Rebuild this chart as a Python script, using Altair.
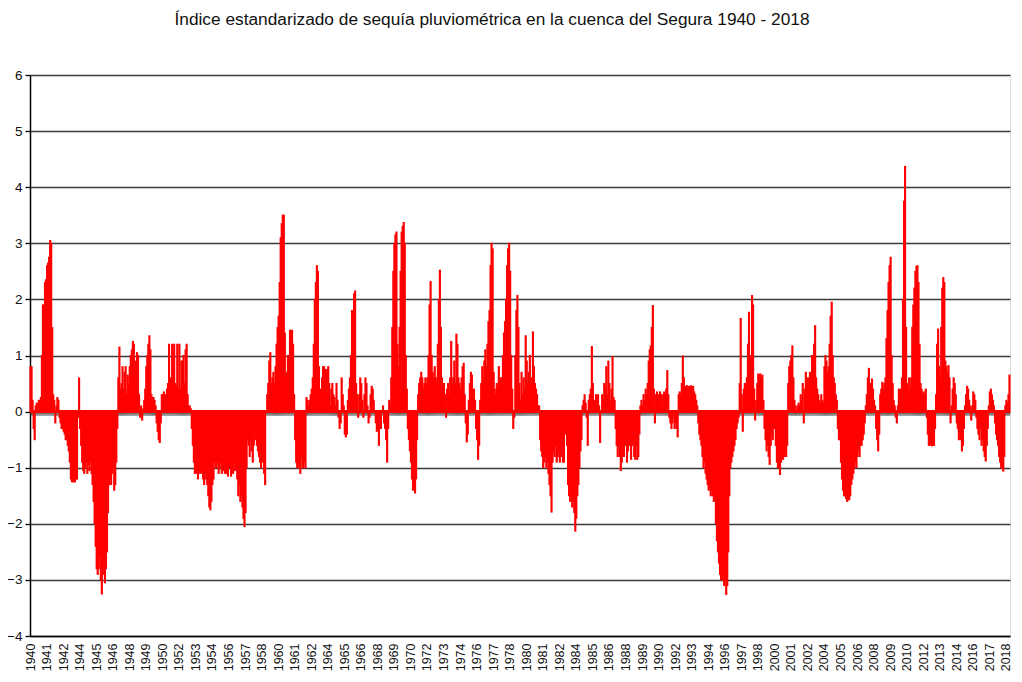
import altair as alt
import pandas as pd

TITLE = "Índice estandarizado de sequía pluviométrica en la cuenca del Segura 1940 - 2018"

X_TICK_LABELS = [
    "1940", "1941", "1942", "1944", "1945", "1946", "1948", "1949", "1950", "1952",
    "1953", "1954", "1956", "1957", "1958", "1960", "1961", "1962", "1964", "1965",
    "1966", "1968", "1969", "1970", "1972", "1973", "1974", "1976", "1977", "1978",
    "1980", "1981", "1982", "1984", "1985", "1986", "1988", "1989", "1990", "1992",
    "1993", "1994", "1996", "1997", "1998", "2000", "2001", "2002", "2004", "2005",
    "2006", "2008", "2009", "2010", "2012", "2013", "2014", "2016", "2017", "2018",
]
LABEL_STEP = 16  # one label every 16 monthly categories

# Monthly index values (Jan..Dec per row)
SPI_1940S = [
    0.8, 0.8, 0.2, -0.3, -0.5, 0.1, 0.15, 0.1, 0.2, 0.2, 0.25, 1.0,
    1.9, 1.9, 2.3, 2.35, 2.6, 2.65, 2.75, 3.05, 3.0, 1.5, 0.3, 0.2,
    -0.2, 0.1, 0.25, 0.2, -0.1, -0.2, -0.3, -0.3, -0.35, -0.4, -0.5, -0.5,
    -0.6, -0.7, -0.9, -1.2, -1.25, -1.25, -1.25, -1.25, -1.2, -1.2, -0.1, 0.6,
    -0.3, -0.6, -0.9, -1.05, -1.1, -1.0, -0.9, -1.1, -0.95, -1.05, -0.9, -1.1,
    -1.3, -1.6, -2.0, -2.4, -2.8, -2.9, -2.8, -2.6, -3.0, -3.25, -2.9, -2.7,
    -3.05, -2.8, -2.5, -1.8, -1.3, -1.2, -1.3, -1.1, -1.0, -1.4, -1.3, -0.9,
    -0.3, 0.6, 1.15, 0.4, 0.5, 0.8, 0.4, 0.7, 0.8, 0.3, 0.65, 0.5,
    0.8, 1.0, 1.1, 1.25, 1.2, 0.7, 0.9, 1.05, 1.0, 0.3, -0.1, 0.1,
    -0.15, 0.05, 0.2, 0.4, 0.8, 1.0, 1.2, 1.35, 1.1, 0.3, 0.25, 0.25,
]
SPI_1950S = [
    0.2, 0.1, -0.2, -0.35, -0.5, -0.55, -0.2, 0.3, 0.3, 0.35, 0.3, 0.25,
    0.4, 0.5, 1.2, 0.6, 0.5, 1.2, 0.8, 1.2, 0.5, 0.45, 1.2, 0.4,
    1.2, 0.4, 0.9, 0.9, 1.0, 0.5, 1.1, 1.2, 0.3, 0.1, 0.1, 0.05,
    -0.3, -0.6, -0.9, -1.1, -1.1, -1.0, -1.2, -1.1, -0.8, -1.1, -1.0, -1.2,
    -1.3, -1.1, -1.2, -1.3, -1.5, -1.7, -1.75, -1.6, -1.3, -1.2, -0.9, -1.0,
    -1.0, -0.9, -1.1, -1.0, -0.9, -1.1, -1.0, -1.05, -1.1, -1.1, -1.0, -1.15,
    -1.0, -0.9, -1.15, -1.0, -1.1, -0.9, -1.05, -1.0, -1.2, -1.5, -1.3, -1.6,
    -1.5, -1.7, -1.9, -2.05, -1.8, -1.0, -0.5, -0.6, -0.8, -0.5, -0.7, -0.9,
    -0.6, -0.4, -0.5, -0.6, -0.7, -0.8, -0.9, -1.0, -0.8, -0.9, -1.1, -1.3,
    0.0, 0.3, 0.5, 0.9, 1.05, 0.5, 0.6, 0.7, 0.5, 0.8, 1.2, 1.5,
]
SPI_1960S = [
    1.7, 2.3, 3.1, 3.35, 3.5, 3.5, 1.4, 0.6, 0.7, 1.0, 0.7, 1.45,
    1.0, 1.45, 1.2, 0.3, -0.5, -0.9, -1.0, -0.95, -1.0, -1.1, -0.8, -1.0,
    -1.0, -0.9, -1.0, 0.25, 0.2, 0.1, 0.2, 0.3, 0.4, 0.6, 1.2, 2.0,
    2.3, 2.6, 2.5, 0.8, 0.4, 0.2, 0.6, 0.8, 0.8, 0.75, 0.7, 0.75,
    0.8, 0.5, 0.1, 0.4, 0.5, 0.3, 0.25, 0.1, 0.5, 0.2, -0.1, -0.3,
    -0.2, 0.6, 0.3, 0.1, -0.4, -0.45, -0.4, 0.2, 0.4, 0.6, 1.0, 1.8,
    1.2, 2.1, 2.15, 0.5, 0.3, -0.1, 0.3, 0.6, 0.5, 0.2, -0.1, 0.3,
    0.6, 0.5, 0.1, -0.2, -0.1, 0.3, 0.45, 0.4, 0.2, 0.0, -0.2, -0.35,
    -0.3, -0.6, -0.1, -0.3, 0.0, 0.1, -0.2, -0.3, -0.5, -0.9, -0.3, 0.2,
    0.1, 0.6, 1.5, 2.5, 3.0, 3.15, 3.2, 1.2, 0.8, 1.5, 2.5, 3.2,
]
SPI_1970S = [
    3.3, 3.37, 3.0, 1.0, 0.4, -0.3, -0.5, -0.7, -0.9, -1.2, -1.4, -1.3,
    -1.45, -1.2, -0.5, 0.3, 0.5, 0.6, 0.7, 0.6, 0.4, 0.5, 0.6, 0.5,
    0.6, 1.0, 1.9, 2.32, 1.0, 0.7, 0.6, 0.8, 0.6, 0.5, 1.2, 2.0,
    2.52, 1.5, 0.6, 0.4, 0.5, 0.3, -0.1, 0.4, 0.5, 0.3, 0.6, 1.25,
    0.5, 0.6, 0.9, 0.5, 1.38, 1.2, 0.6, 0.5, 0.4, 0.6, 0.8, 0.86,
    0.3, -0.2, -0.54, -0.4, 0.2, 0.5, 0.7, 0.65, 0.3, 0.4, 0.2, -0.3,
    -0.5, -0.85, -0.6, 0.2, 0.5, 0.8, 0.6, 0.9, 1.1, 0.8, 1.2, 1.6,
    1.8, 2.6, 3.0, 2.9, 0.7, 0.4, 0.3, 0.5, 0.4, 0.8, 0.5, 0.6,
    0.6, 1.0, 1.4, 1.6, 2.0, 2.6, 2.9, 3.0, 2.5, 1.0, 0.4, -0.3,
    -0.1, 1.0, 1.8, 2.07, 1.5, 0.5, 0.2, 0.7, 0.3, 0.6, 0.4, 1.35,
]
SPI_1980S = [
    0.9, 0.5, 0.7, 1.0, 0.6, 0.5, 1.42, 0.8, 0.5, 0.4, 0.3, 0.1,
    0.1, -0.5, -0.7, -0.8, -1.0, -0.9, -0.8, -1.0, -0.9, -1.1, -1.3, -1.5,
    -1.79, -0.9, -0.7, -0.8, -0.6, -0.9, -0.8, -0.7, -0.9, -0.8, -0.7, -0.9,
    -0.9, -0.4, -0.2, -0.6, -1.3, -1.5, -1.6, -1.5, -1.7, -1.6, -1.8, -2.13,
    -1.9, -1.5, -1.3, -1.0, -0.7, -0.5, 0.1, 0.2, 0.3, 0.15, -0.1, -0.6,
    0.2, 0.3, 0.4, 1.16, 0.5, 0.2, 0.1, 0.3, 0.2, 0.3, 0.1, -0.55,
    0.0, 0.3, 0.2, 0.5, 0.4, 0.8, 0.3, 0.9, 0.5, 0.2, 0.4, 0.98,
    0.25, 0.2, -0.3, -0.6, -0.8, -0.6, -0.8, -1.05, -0.9, -0.7, -0.8, -0.6,
    -0.5, -0.9, -0.7, -0.4, -0.6, -0.85, -0.6, -0.5, -0.8, -0.85, -0.6, -0.85,
    -0.8, -0.4, 0.1, 0.2, 0.1, 0.3, 0.2, 0.4, 0.3, 0.5, 0.9, 1.1,
]
SPI_1990S = [
    1.17, 1.5, 1.89, 0.4, -0.2, 0.3, 0.35, 0.2, 0.3, 0.35, 0.3, 0.1,
    0.3, 0.35, 0.3, 0.4, 0.73, 0.3, -0.1, -0.2, -0.3, -0.2, -0.1, -0.3,
    -0.2, -0.3, -0.45, 0.3, 0.35, 0.3, 0.5, 0.99, 0.6, 0.4, 0.45, 0.46,
    0.45, 0.4, 0.45, 0.46, 0.4, 0.45, 0.35, 0.3, 0.2, 0.1, -0.2, -0.4,
    -0.5, -0.6, -0.8, -1.0, -0.9, -1.1, -1.2, -1.3, -1.4, -1.35, -1.5, -1.4,
    -1.5, -1.6, -1.5, -2.0, -2.3, -2.5, -2.7, -2.9, -3.0, -2.8, -3.0, -3.1,
    -3.0, -3.26, -3.1, -2.5, -1.5, -1.0, -0.9, -0.8, -0.7, -0.6, -0.5, -0.3,
    -0.2, -0.1, 0.5, 1.66, 0.3, -0.35, 0.4, 0.5, 0.45, 0.6, 1.2, 1.77,
    1.0, 0.5, 2.07, 1.9, 0.4, -0.15, 0.2, 0.5, 0.67, 0.65, 0.67, 0.6,
    0.65, 0.2, -0.3, -0.5, -0.7, -0.6, -0.8, -0.94, -0.6, -0.4, -0.5, -0.3,
]
SPI_2000S = [
    -0.3, -0.6, -0.9, -1.0, -0.8, -1.12, -0.9, -0.8, -0.85, -0.8, -0.7, -0.8,
    -0.6, 0.5, 0.8, 0.9, 1.0, 1.17, 0.6, 0.2, 0.1, 0.0, 0.1, 0.15,
    0.1, 0.3, 0.2, 0.5, -0.2, 0.4, 0.7, 0.5, 0.6, 0.4, 0.7, 0.5,
    1.0, 0.8, 1.2, 1.53, 0.6, 0.4, 0.3, 0.2, 0.15, 0.3, 0.2, 0.16,
    0.8, 1.0, 0.9, 0.7, 0.8, 1.2, 1.7, 1.95, 1.0, 0.6, 0.5, 0.3,
    0.2, -0.3, -0.5, -0.5, -0.9, -1.2, -1.4, -1.5, -1.5, -1.55, -1.6, -1.57,
    -1.57, -1.5, -1.3, -1.2, -1.1, -1.0, -0.9, -1.0, -0.8, -0.7, -0.8, -0.6,
    -0.6, -0.5, -0.4, -0.2, 0.1, 0.3, 0.6, 0.77, 0.3, 0.5, 0.58, 0.4,
    0.2, 0.1, -0.3, -0.5, -0.7, -0.4, 0.3, 0.4, 0.52, 0.4, 0.5, 0.6,
    1.3, 1.8, 2.3, 2.6, 2.75, 1.0, 0.5, 0.2, 0.1, -0.1, -0.2, 0.1,
]
SPI_2010S = [
    0.4, 0.3, 0.4, 0.6, 2.0, 3.75, 4.37, 1.5, 0.5, 0.3, 0.6, 0.4,
    0.6, 1.5, 1.9, 2.2, 2.5, 2.59, 2.6, 2.3, 1.2, 0.5, 0.4, 0.3,
    0.35, 0.3, 0.4, -0.1, -0.4, -0.6, -0.6, -0.55, -0.61, -0.5, -0.6, -0.3,
    0.3, 1.2, 1.47, 0.8, 0.6, 1.5, 2.2, 2.39, 2.3, 0.9, 0.8, 0.7,
    0.82, 0.6, -0.2, 0.1, 0.4, 0.6, 0.5, 0.3, -0.2, -0.3, -0.5, -0.4,
    -0.5, -0.7, -0.6, -0.3, 0.1, 0.3, 0.45, 0.4, 0.2, 0.1, -0.15, 0.1,
    0.35, 0.3, 0.2, -0.1, -0.3, -0.4, -0.5, -0.3, -0.6, -0.5, -0.7, -0.8,
    -0.88, -0.6, -0.3, 0.1, 0.35, 0.4, 0.3, 0.2, 0.1, -0.2, -0.4, -0.5,
    -0.6, -0.8, -0.9, -1.0, -1.0, -1.06, -0.8, 0.1, 0.2, 0.15, 0.3, 0.65,
]

values = (SPI_1940S + SPI_1950S + SPI_1960S + SPI_1970S
          + SPI_1980S + SPI_1990S + SPI_2000S + SPI_2010S)
n = len(values)
df = pd.DataFrame({"idx": list(range(n)), "spi": values})

tick_values = list(range(0, n, LABEL_STEP))[: len(X_TICK_LABELS)]
labels_js = "[" + ",".join('"%s"' % s for s in X_TICK_LABELS) + "]"
label_expr = labels_js + "[round(datum.value / %d)]" % LABEL_STEP

x_enc = alt.X(
    "idx:O",
    scale=alt.Scale(paddingInner=0, paddingOuter=0),
    axis=alt.Axis(
        values=tick_values,
        labelExpr=label_expr,
        labelAngle=270,
        labelFontSize=12.5,
        labelFont="Liberation Sans",
        labelColor="#111111",
        labelPadding=7,
        ticks=False,
        domain=True,
        domainColor="#000000",
        domainWidth=1.5,
        grid=False,
        title=None,
        labelOverlap=False,
    ),
)
y_scale = alt.Scale(domain=[-4, 6], nice=False, zero=False)
y_enc = alt.Y(
    "spi:Q",
    scale=y_scale,
    axis=alt.Axis(
        values=list(range(-4, 7)),
        format="d",
        grid=True,
        gridColor="#3a3a3a",
        gridWidth=1.3,
        domain=True,
        domainColor="#000000",
        domainWidth=1.5,
        tickColor="#000000",
        tickSize=5,
        tickWidth=1.3,
        labelFontSize=13.5,
        labelFont="Liberation Sans",
        labelColor="#111111",
        labelPadding=3,
        title=None,
    ),
)

base = alt.Chart(df)

zero_ticks = base.mark_rule(color="#222222", strokeWidth=0.6).encode(
    x=x_enc,
    y=alt.Y(datum=0, scale=y_scale),
    y2=alt.datum(-0.075),
)
bars = base.mark_bar(color="#ff0000", stroke="#ff0000", strokeWidth=1.1).encode(
    x=x_enc,
    y=y_enc,
)
zero_line = base.mark_rule(color="#ff0000", strokeWidth=2).encode(
    y=alt.Y(datum=0, scale=y_scale),
)

chart = alt.layer(zero_ticks, bars, zero_line).properties(
    width=980,
    height=561,
    autosize=alt.AutoSizeParams(type="none"),
    padding={"left": 22, "top": 67, "right": 4, "bottom": 36},
    title=alt.TitleParams(
        TITLE,
        anchor="middle",
        dx=-28,
        offset=40,
        fontSize=17.3,
        font="Liberation Sans",
        fontWeight="normal",
        color="#111111",
    ),
).configure_view(stroke=None).configure(background="white")

chart.save("out.html", embed_options={"renderer": "svg", "actions": False})
